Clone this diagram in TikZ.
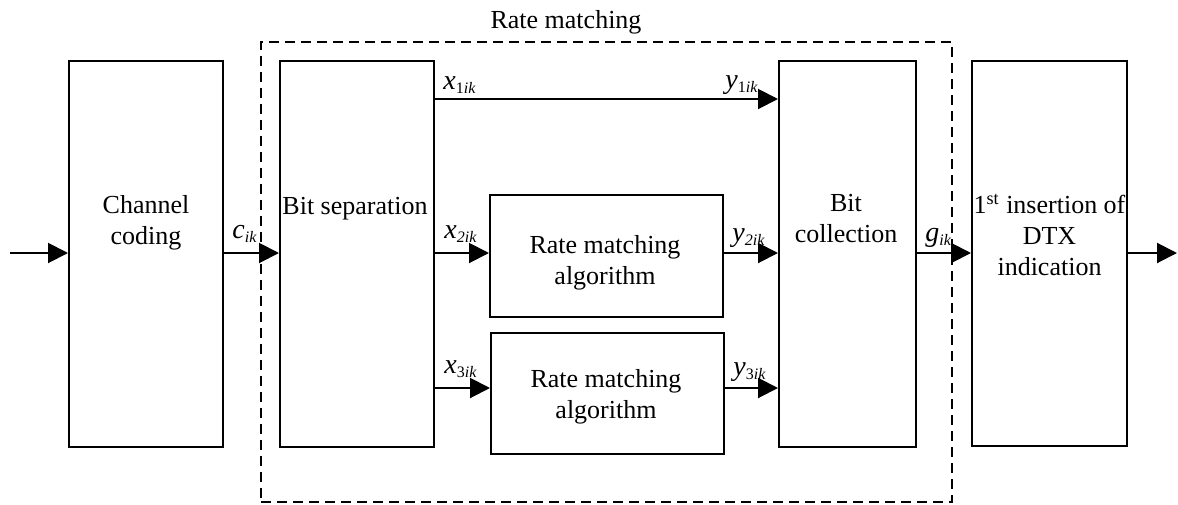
\documentclass[tikz,border=0pt]{standalone}
\usepackage{fontspec}
\setmainfont{Liberation Serif}
\usetikzlibrary{arrows.meta}
\newcommand{\sigl}[3]{{\fontsize{14}{16}\selectfont\textit{#1}}\raisebox{-2.2pt}{\fontsize{8}{9}\selectfont #2\textit{#3}}}
\begin{document}
\begin{tikzpicture}[x=0.5pt,y=-0.5pt,
  blk/.style={draw, line width=1pt, inner sep=0pt},
  txt/.style={font=\fontsize{13}{15.5}\selectfont, align=center, inner sep=0pt},
  sig/.style={inner sep=0pt, anchor=base west},
  flow/.style={line width=1pt, -{Triangle[length=10pt,width=10pt]}},
  grp/.style={draw, dash pattern=on 5.2pt off 2.8pt, line width=1pt, inner sep=0pt}]
\useasboundingbox (0,0) rectangle (1178,504);
% boxes
\node[blk, minimum width=77pt, minimum height=193pt] (cc) at (146,254) {};
\node[blk, minimum width=77pt, minimum height=193pt] (bs) at (357,254) {};
\node[blk, minimum width=68.5pt, minimum height=193pt] (bc) at (847.5,254) {};
\node[blk, minimum width=77.25pt, minimum height=192.5pt] (dtx) at (1049.25,253.5) {};
\node[blk, minimum width=116.5pt, minimum height=61pt] (rm1) at (606.5,256) {};
\node[blk, minimum width=116.5pt, minimum height=60.5pt] (rm2) at (607.5,393.5) {};
\node[grp, minimum width=345.5pt, minimum height=230pt] (grp) at (606.5,272) {};
% texts
\node[txt] (cct) at (146,222.5) {Channel\\coding};
\node[txt, anchor=base] (bst) at (355,214) {Bit separation};
\node[txt] (bct) at (846,219) {Bit\\collection};
\node[txt] (dtxt) at (1049.5,235) {1\textsuperscript{st} insertion of\\DTX\\indication};
\node[txt] (rm1t) at (605,262.5) {Rate matching\\algorithm};
\node[txt] (rm2t) at (606,397) {Rate matching\\algorithm};
\node[txt, anchor=base] (title) at (566,28) {Rate matching};
% coordinates
\coordinate (in) at (10,253);
\coordinate (out) at (1177,253);
\coordinate (ytop) at (0,99);
\coordinate (ymid) at (0,253);
\coordinate (ybot) at (0,388);
% arrows
\draw[flow] (in) -- (in -| cc.west);
\draw[flow] (cc.east |- ymid) -- (bs.west |- ymid);
\draw[flow] (bs.east |- ytop) -- (bc.west |- ytop);
\draw[flow] (bs.east |- ymid) -- (rm1.west |- ymid);
\draw[flow] (rm1.east |- ymid) -- (bc.west |- ymid);
\draw[flow] (bs.east |- ybot) -- (rm2.west |- ybot);
\draw[flow] (rm2.east |- ybot) -- (bc.west |- ybot);
\draw[flow] (bc.east |- ymid) -- (dtx.west |- ymid);
\draw[flow] (dtx.east |- ymid) -- (out);
% signal labels
\node[sig] (lx1) at (443,89) {\sigl{x}{1}{ik}};
\node[sig] (ly1) at (725,88) {\sigl{y}{1}{ik}};
\node[sig] (lx2) at (444,238) {\sigl{x}{\textit{2}}{ik}};
\node[sig] (ly2) at (732,241) {\sigl{y}{\textit{2}}{ik}};
\node[sig] (lx3) at (444,373) {\sigl{x}{3}{ik}};
\node[sig] (ly3) at (733,375) {\sigl{y}{3}{ik}};
\node[sig] (lc) at (232,238) {\sigl{c}{}{ik}};
\node[sig] (lg) at (925,241) {\sigl{g}{}{ik}};
\end{tikzpicture}
\end{document}
